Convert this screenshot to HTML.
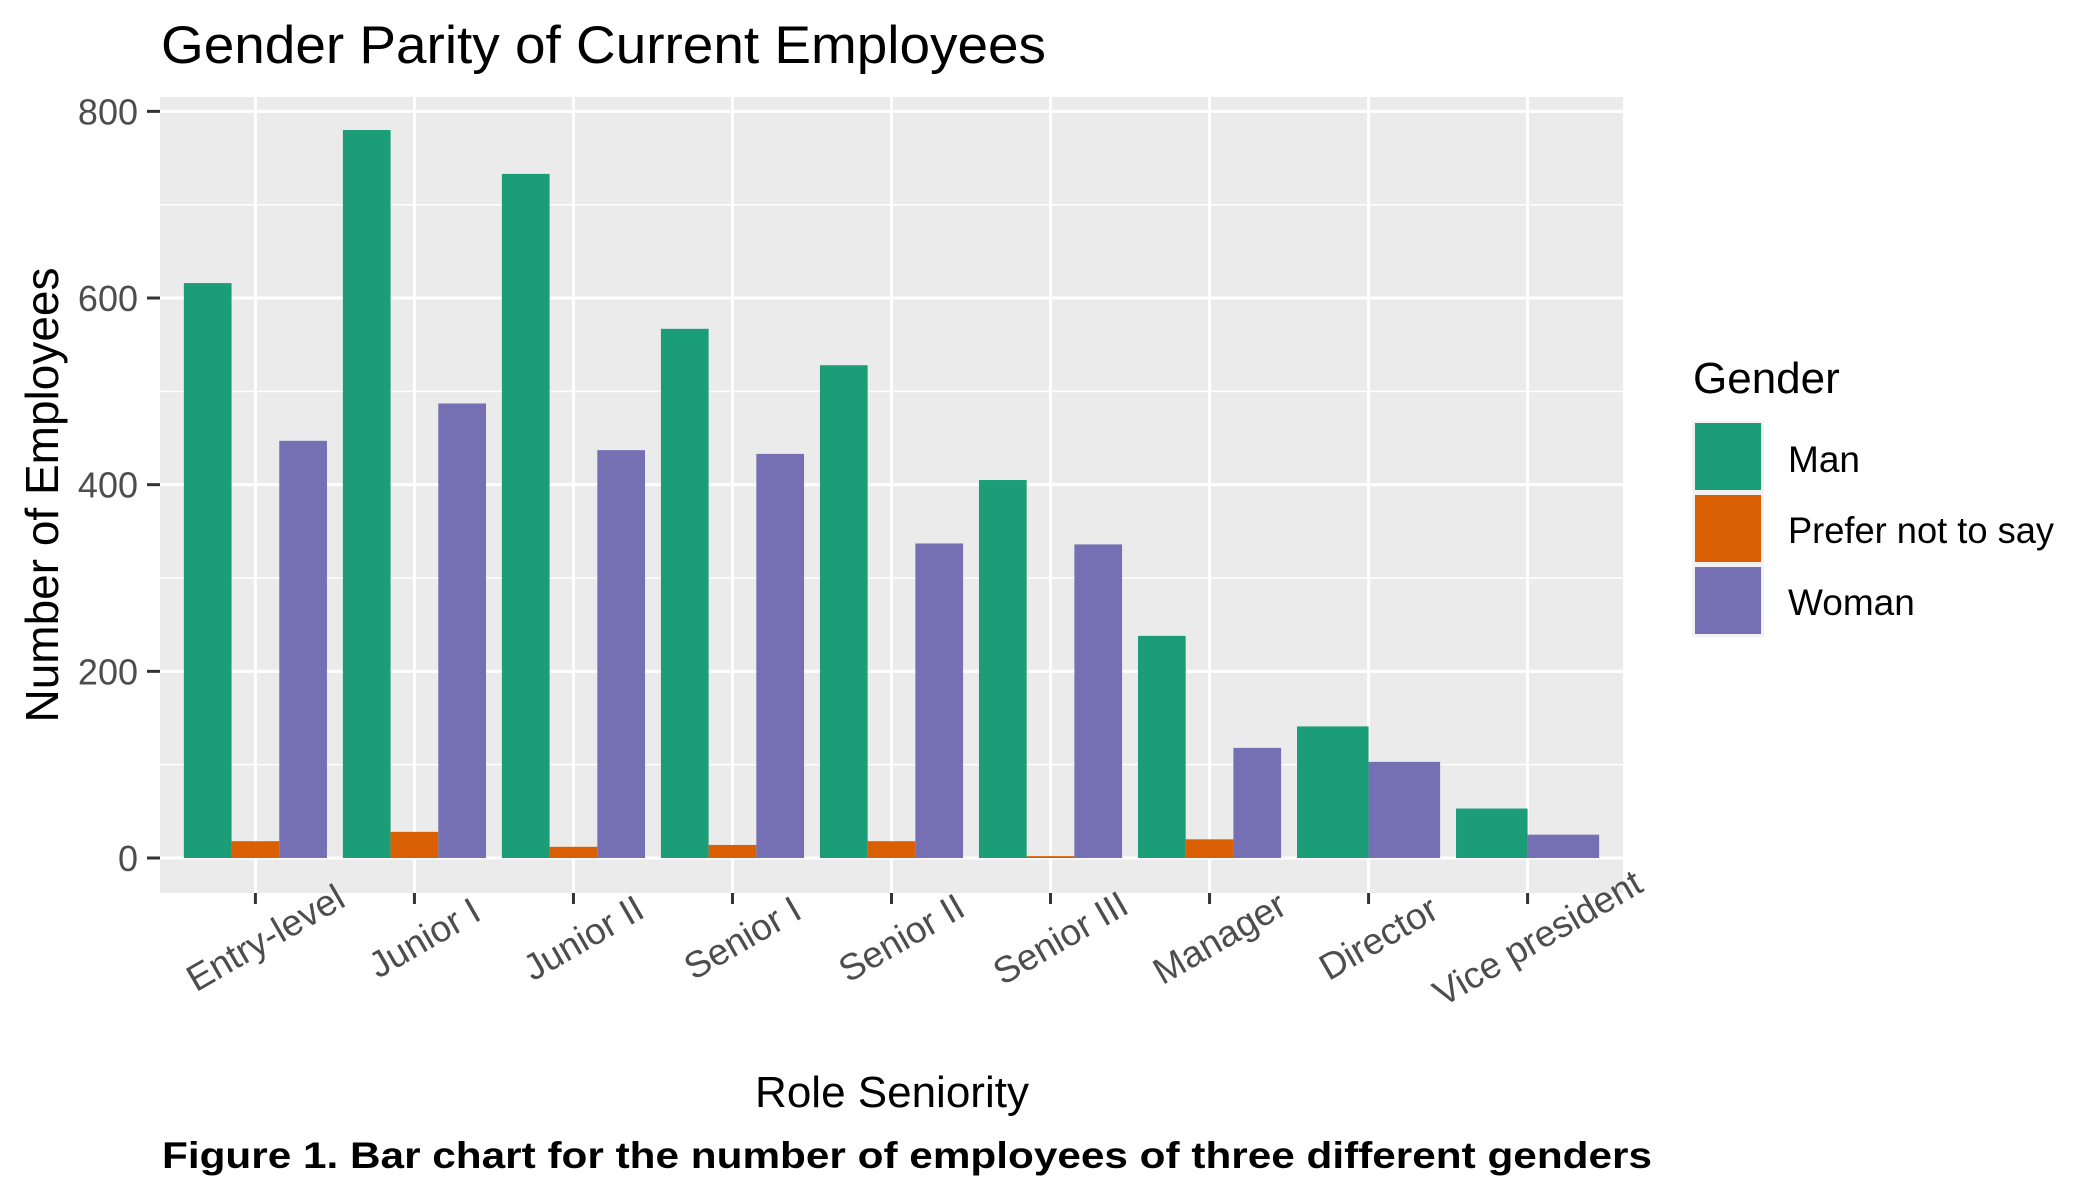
<!DOCTYPE html>
<html><head><meta charset="utf-8"><style>
html,body{margin:0;padding:0;background:#fff;}
svg{display:block;font-family:"Liberation Sans",Arial,sans-serif;}
</style></head><body>
<svg id="chart" width="2100" height="1200" viewBox="0 0 2100 1200">
<rect x="160" y="97" width="1463" height="796" fill="#EBEBEB"/>
<g id="grid"></g>
<g id="bars"></g>
<g id="axes"></g>
<text x="161" y="63" font-size="53" fill="#000" textLength="885" lengthAdjust="spacingAndGlyphs">Gender Parity of Current Employees</text>
<text transform="translate(58,495) rotate(-90)" text-anchor="middle" font-size="46" fill="#000" textLength="455" lengthAdjust="spacingAndGlyphs">Number of Employees</text>
<text x="892" y="1107" text-anchor="middle" font-size="44" fill="#000">Role Seniority</text>
<text x="162" y="1168" font-size="37" font-weight="bold" fill="#000" textLength="1490" lengthAdjust="spacingAndGlyphs">Figure 1. Bar chart for the number of employees of three different genders</text>
<g>
<text x="1693" y="393" font-size="44" fill="#000">Gender</text>
<rect x="1692" y="421" width="72" height="216" fill="#F2F2F2"/>
<rect x="1695" y="423" width="66" height="67" fill="#1B9E77"/>
<rect x="1695" y="495" width="66" height="67" fill="#D95F02"/>
<rect x="1695" y="567" width="66" height="67" fill="#7570B3"/>
<text x="1788" y="472" font-size="37" fill="#000">Man</text>
<text x="1788" y="543" font-size="37" fill="#000" textLength="266" lengthAdjust="spacingAndGlyphs">Prefer not to say</text>
<text x="1788" y="615" font-size="37" fill="#000">Woman</text>
</g>
</svg>
<script>
const categories = ["Entry-level","Junior I","Junior II","Senior I","Senior II","Senior III","Manager","Director","Vice president"];
const manValues = [616,780,733,567,528,405,238,141,53];
const preferValues = [18,28,12,14,18,2,20,null,null];
const womanValues = [447,487,437,433,337,336,118,103,25];
const yTicks = [0,200,400,600,800];
const yMinor = [100,300,500,700];

const NS="http://www.w3.org/2000/svg";
const L=160,R=1623,T=97,B=893,Y0=858,PXU=0.9333;
const step=(R-L)/(categories.length-1+1.2);
function xs(i){return L+0.6*step+i*step;}
function ys(v){return Y0-v*PXU;}
function mk(tag,attrs,parent){const e=document.createElementNS(NS,tag);for(const k in attrs)e.setAttribute(k,attrs[k]);parent.appendChild(e);return e;}
const grid=document.getElementById('grid'),bars=document.getElementById('bars'),axes=document.getElementById('axes');
yMinor.forEach(v=>{const l=mk('line',{x1:L,x2:R,y1:ys(v),y2:ys(v),stroke:'#fff','stroke-width':1.5},grid);

});
yTicks.forEach(v=>{const l=mk('line',{x1:L,x2:R,y1:ys(v),y2:ys(v),stroke:'#fff','stroke-width':3},grid);


const t=mk('line',{x1:147,x2:160,y1:ys(v),y2:ys(v),stroke:'#333','stroke-width':3},axes);


const tx=mk('text',{x:138,y:ys(v)+13,'text-anchor':'end','font-size':36,fill:'#4d4d4d'},axes);tx.textContent=v;

});
categories.forEach((c,i)=>{const x=xs(i);
const g=mk('line',{x1:x,x2:x,y1:T,y2:B,stroke:'#fff','stroke-width':3},grid);


const t=mk('line',{x1:x,x2:x,y1:B,y2:B+11,stroke:'#333','stroke-width':3},axes);


const cx=x+10,cy=938;
const tx=mk('text',{x:cx,y:cy,'text-anchor':'middle','dominant-baseline':'central','font-size':37,fill:'#4d4d4d',transform:`rotate(-30 ${cx} ${cy})`},axes);tx.textContent=c;


const series=[[manValues[i],'#1B9E77','man'],[preferValues[i],'#D95F02','prefer-not'],[womanValues[i],'#7570B3','woman']].filter(s=>s[0]!==null);
const total=0.9*step,w=total/series.length;
series.forEach((s,j)=>{const bx=x-total/2+j*w;
const r=mk('rect',{x:bx,y:ys(s[0]),width:w,height:Y0-ys(s[0]),fill:s[1]},bars);

});
});
</script>
</body></html>
